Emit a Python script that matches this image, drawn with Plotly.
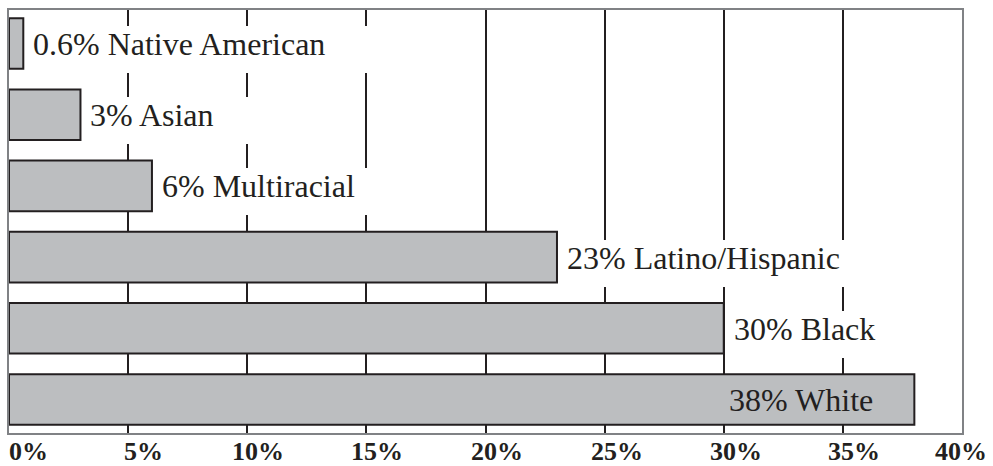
import plotly.graph_objects as go

# ---- data ----
categories = ["Native American", "Asian", "Multiracial", "Latino/Hispanic", "Black", "White"]
values = [0.6, 3, 6, 23, 30, 38]
tick_values = [0, 5, 10, 15, 20, 25, 30, 35, 40]
tick_labels = ["0%", "5%", "10%", "15%", "20%", "25%", "30%", "35%", "40%"]

# ---- style ----
tick_label_dx = [19, 15, 11, 11, 11, 12, 12, 11, -1]
FONT = "Liberation Serif, Times New Roman, serif"
INK = "#231f20"
BAR_FILL = "#bcbec0"
FRAME = "#808285"

fig = go.Figure(
    go.Bar(
        x=values,
        y=categories,
        orientation="h",
        width=0.71,
        marker=dict(color=BAR_FILL, line=dict(color=INK, width=2)),
        hoverinfo="skip",
    )
)

for v, c in zip(values, categories):
    label = f"{v:g}% {c}"
    if v > 35:
        fig.add_annotation(
            x=v, y=c, xref="x", yref="y", text=label, showarrow=False,
            xanchor="right", yanchor="middle", xshift=-41, yshift=0,
            font=dict(family=FONT, size=32, color=INK),
            borderpad=0, borderwidth=0,
        )
    else:
        fig.add_annotation(
            x=v, y=c, xref="x", yref="y", text=label + "\u00a0" * 7, showarrow=False,
            xanchor="left", yanchor="middle", xshift=10, yshift=-6,
            height=47, valign="top", align="left",
            bgcolor="white", borderpad=0, borderwidth=0,
            font=dict(family=FONT, size=32, color=INK),
        )

for tv, tl, dx in zip(tick_values, tick_labels, tick_label_dx):
    fig.add_annotation(
        x=tv, y=0, xref="x", yref="paper", text=f"<b>{tl}</b>", showarrow=False,
        xanchor="center", yanchor="top", xshift=dx, yshift=-4,
        font=dict(family=FONT, size=26, color=INK),
        borderpad=0, borderwidth=0,
    )

fig.update_layout(
    width=993, height=466,
    margin=dict(l=9, r=31, t=8, b=33),
    plot_bgcolor="white", paper_bgcolor="white",
    showlegend=False,
    xaxis=dict(
        range=[0, 40], tickvals=tick_values, showticklabels=False,
        showgrid=True, gridcolor=INK, gridwidth=2, zeroline=False,
        showline=True, mirror=True, linecolor=FRAME, linewidth=2, ticks="",
    ),
    yaxis=dict(
        range=[5.47, -0.47], showticklabels=False, showgrid=False, zeroline=False,
        showline=True, mirror=True, linecolor=FRAME, linewidth=2, ticks="",
    ),
)

fig.write_html("out.html", config={"displayModeBar": False})
